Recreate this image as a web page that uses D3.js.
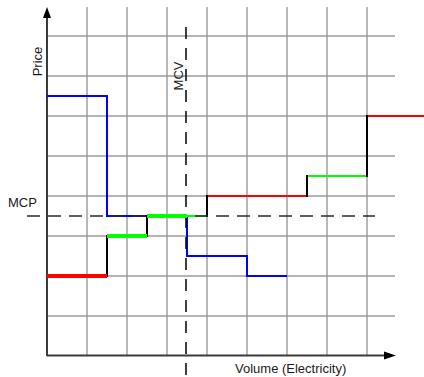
<!DOCTYPE html>
<html>
<head>
<meta charset="utf-8">
<script src="https://cdn.jsdelivr.net/npm/d3@7"></script>
<style>
  html, body { margin: 0; padding: 0; background: #fff; }
  svg { display: block; }
  text { font-family: "Liberation Sans", Arial, sans-serif; font-size: 13px; fill: #1a1a1a; }
</style>
</head>
<body>
<svg id="chart" width="424" height="377"></svg>
<script>
// Merit-order market clearing: stepped supply offers vs. stepped demand bids.
const gridVolumes = [2, 4, 6, 8, 10, 12, 14, 16];
const gridPrices = [2, 4, 6, 8, 10, 12, 14, 16];

// Supply offer blocks: [from, to) volume at a given price
const supplyFrom = [0, 3, 5, 7, 8, 13, 16];
const supplyTo = [3, 5, 7, 8, 13, 16, 19];
const supplyPrice = [4, 6, 7, 7, 8, 9, 12];
const supplyType = ["peak", "base", "base", "mid", "flex", "mid", "flex"];

// Demand bid blocks
const demandFrom = [0, 3, 7, 10];
const demandTo = [3, 7, 10, 12];
const demandPrice = [13, 7, 5, 4];

const clearingPrice = 7;   // MCP
const clearingVolume = 7;  // MCV

const axisLabels = { x: "Volume (Electricity)", y: "Price", mcp: "MCP", mcv: "MCV" };

// Line appearance per offer type
const offerColor = { peak: "#ff0000", base: "#00ff00", mid: "#00ff00", flex: "#ff0000" };
const offerWidth = { peak: 4, base: 4, mid: 2, flex: 2 };

const svg = d3.select("#chart");
const x = d3.scaleLinear().domain([0, 17.4]).range([47, 395]);
const y = d3.scaleLinear().domain([0, 17.45]).range([356, 7]);

// Grid
const grid = svg.append("g").attr("stroke", "#9a9a9a").attr("stroke-width", 1.4);
grid.selectAll("line.v").data(gridVolumes).join("line")
  .attr("x1", d => x(d)).attr("x2", d => x(d))
  .attr("y1", y(17.45)).attr("y2", y(0));
grid.selectAll("line.h").data(gridPrices).join("line")
  .attr("x1", x(0)).attr("x2", x(17.4))
  .attr("y1", d => y(d)).attr("y2", d => y(d));

// Axes with arrowheads
const axes = svg.append("g");
axes.append("line").attr("x1", x(0)).attr("x2", x(17.4) - 6)
  .attr("y1", y(0) - 0.5).attr("y2", y(0) - 0.5)
  .attr("stroke", "#3a3a3a").attr("stroke-width", 2);
axes.append("line").attr("x1", x(0)).attr("x2", x(0))
  .attr("y1", y(0)).attr("y2", y(17.45) + 6)
  .attr("stroke", "#3a3a3a").attr("stroke-width", 2);
axes.append("path")
  .attr("d", `M${x(17.4) + 1},${y(0) - 0.5} L${x(17.4) - 11},${y(0) - 4.5} L${x(17.4) - 11},${y(0) + 3.5} Z`)
  .attr("fill", "#000");
axes.append("path")
  .attr("d", `M${x(0)},${y(17.45)} L${x(0) - 4},${y(17.45) + 11} L${x(0) + 4},${y(17.45) + 11} Z`)
  .attr("fill", "#000");

// Demand curve (stepped)
const demandPts = [];
demandFrom.forEach((f, i) => {
  demandPts.push([f, demandPrice[i]]);
  demandPts.push([demandTo[i], demandPrice[i]]);
});
const line = d3.line().x(d => x(d[0])).y(d => y(d[1]));
svg.append("path").datum(demandPts).attr("d", line)
  .attr("fill", "none").attr("stroke", "#0000ff").attr("stroke-width", 2);

// Supply: thin offer blocks
const offers = supplyFrom.map((f, i) => ({ from: f, to: supplyTo[i], price: supplyPrice[i], type: supplyType[i] }));
const drawOffers = (sel) => sel
  .attr("x1", d => x(d.from)).attr("x2", d => x(d.to))
  .attr("y1", d => y(d.price)).attr("y2", d => y(d.price))
  .attr("stroke", d => offerColor[d.type])
  .attr("stroke-width", d => offerWidth[d.type]);
svg.append("g").selectAll("line").data(offers.filter(o => offerWidth[o.type] < 3)).join("line").call(drawOffers);

// Supply: black risers between consecutive offer prices
const risers = offers.slice(1).map((o, i) => ({ at: o.from, lo: offers[i].price, hi: o.price }))
  .filter(r => r.lo !== r.hi);
svg.append("g").selectAll("line").data(risers).join("line")
  .attr("x1", d => x(d.at)).attr("x2", d => x(d.at))
  .attr("y1", d => y(d.lo) + 1).attr("y2", d => y(d.hi) - 1)
  .attr("stroke", "#000").attr("stroke-width", 2);

// Market clearing price and volume
svg.append("line")
  .attr("x1", 27).attr("x2", 375)
  .attr("y1", y(clearingPrice)).attr("y2", y(clearingPrice))
  .attr("stroke", "#2a2a2a").attr("stroke-width", 1.5).attr("stroke-dasharray", "13,8");
svg.append("line")
  .attr("x1", x(clearingVolume) - 1).attr("x2", x(clearingVolume) - 1)
  .attr("y1", 27).attr("y2", 375)
  .attr("stroke", "#000").attr("stroke-width", 1.5).attr("stroke-dasharray", "12,9");

// Supply: thick offer blocks on top
svg.append("g").selectAll("line").data(offers.filter(o => offerWidth[o.type] >= 3)).join("line").call(drawOffers);

// Labels
svg.append("text").attr("transform", "translate(42,61.5) rotate(-90)")
  .attr("text-anchor", "middle").text(axisLabels.y);
svg.append("text").attr("transform", `translate(${x(clearingVolume) - 4.5},76) rotate(-90)`)
  .attr("text-anchor", "middle").text(axisLabels.mcv);
svg.append("text").attr("x", 8).attr("y", 207).text(axisLabels.mcp);
svg.append("text").attr("x", 235).attr("y", 373).text(axisLabels.x);
</script>
</body>
</html>
